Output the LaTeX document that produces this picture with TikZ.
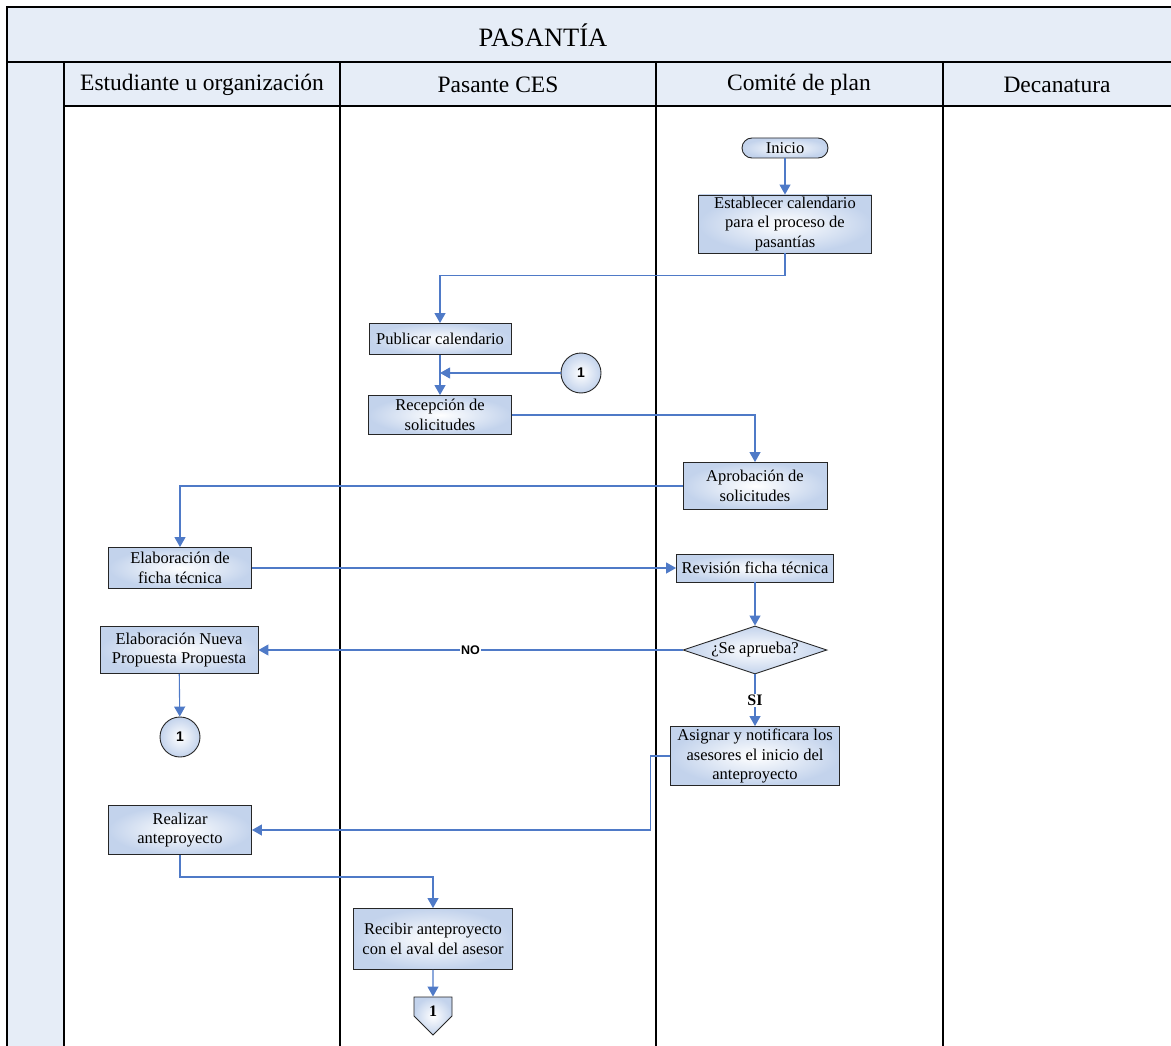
\documentclass[tikz,border=0pt]{standalone}
\usepackage{fontspec}
\setmainfont{Liberation Serif}
\newfontfamily\sansbold{Liberation Sans}
\usetikzlibrary{arrows.meta,positioning,shapes.geometric,shapes.symbols}
\definecolor{laneblue}{HTML}{E6EDF7}
\definecolor{boxblue}{HTML}{C3D3EC}
\definecolor{flowblue}{HTML}{4F7AC7}

\begin{document}
\begin{tikzpicture}[
  x=1pt, y=-1pt,
  font=\fontsize{16.5}{19.5}\selectfont,
  box/.style={draw=black!85, inner color=white, outer color=boxblue, align=center, inner sep=1pt, line width=0.9pt},
  conn/.style={circle, draw=black!85, inner color=white, outer color=boxblue, minimum size=40pt, inner sep=0pt, line width=0.9pt, font=\sansbold\bfseries\fontsize{14}{14}\selectfont},
  lanehead/.style={font=\fontsize{23.5}{26}\selectfont},
  arrow/.style={-{Triangle[width=11pt,length=10pt]}, draw=flowblue, line width=1.1pt},
  lane/.style={line width=1.2pt}
]
\useasboundingbox (0,0) rectangle (1171,1046);
% swimlane frame
\fill[laneblue] (7,7) rectangle (1171,62);
\fill[laneblue] (7,62) rectangle (64,1046);
\fill[laneblue] (64,62) rectangle (1171,106);
\draw[lane] (7,1046) -- (7,7) -- (1171,7);
\draw[line width=2.6pt] (7,62) -- (1171,62);
\draw[lane] (64,106) -- (1171,106);
\foreach \xx in {64,340,656,943}
  \draw[lane] (\xx,62) -- (\xx,1046);
\node[font=\fontsize{26.5}{30}\selectfont] (title) at (543,35) {PASANTÍA};
\node[lanehead] (hdstud) at (202,85) {Estudiante u organización};
\node[lanehead] (hdpas) at (498,85) {Pasante CES};
\node[lanehead] (hdcom) at (799,85) {Comité de plan};
\node[lanehead] (hddec) at (1057,85) {Decanatura};

% steps
\node[box, rounded corners=10pt, minimum width=86pt, minimum height=20pt] (inicio) at (785,148) {Inicio};
\node[box, minimum width=173pt, minimum height=58pt] (establecer) at (785,224) {Establecer calendario\\para el proceso de\\pasantías};
\node[box, minimum width=142pt, minimum height=31pt] (publicar) at (440,339) {Publicar calendario};
\node[conn] (conA) at (581,373) {1};
\node[box, minimum width=143pt, minimum height=39pt] (recepcion) at (440,415) {Recepción de\\solicitudes};
\node[box, minimum width=144pt, minimum height=47pt] (aprobacion) at (755,486) {Aprobación de\\solicitudes};
\node[box, minimum width=143pt, minimum height=41pt] (ficha) at (180,568) {Elaboración de\\ficha técnica};
\node[box, minimum width=157pt, minimum height=28pt] (revision) at (755,568) {Revisión ficha técnica};
\node[box, diamond, aspect=3, inner sep=0pt, minimum width=144pt, minimum height=48pt] (decision) at (755,650) {¿Se aprueba?};
\node[box, minimum width=158pt, minimum height=47pt] (nueva) at (179,650) {Elaboración Nueva\\Propuesta Propuesta};
\node[conn] (conB) at (180,737) {1};
\node[box, minimum width=169pt, minimum height=59pt] (asignar) at (755,756) {Asignar y notificara los\\asesores el inicio del\\anteproyecto};
\node[box, minimum width=143pt, minimum height=49pt] (realizar) at (180,830) {Realizar\\anteproyecto};
\node[box, minimum width=159pt, minimum height=61pt] (recibir) at (433,939) {Recibir anteproyecto\\con el aval del asesor};
\node[box, signal, signal to=south, signal pointer angle=90, minimum width=38pt, minimum height=0pt, inner sep=0pt, text height=19pt, text depth=-2pt, font=\bfseries\fontsize{16}{16}\selectfont] (offpage) at (433,1006.5) {1};

% flow
\draw[arrow] (inicio) -- (establecer);
\draw[arrow] (establecer.south) -- ++(0,22) -| (publicar.north);
\draw[arrow] (publicar) -- (recepcion);
\draw[arrow] (conA.west) -- (conA.west -| publicar.south);
\draw[arrow] (recepcion.east) -| (aprobacion.north);
\draw[arrow] (aprobacion.west) -| (ficha.north);
\draw[arrow] (ficha.east) -- (revision.west);
\draw[arrow] (revision) -- (decision);
\draw[arrow] (decision.west) -- node[fill=white, inner sep=1pt, font=\sansbold\bfseries\fontsize{12.5}{12.5}\selectfont] {NO} (nueva.east);
\draw[arrow] (decision.south) -- node[fill=white, inner sep=1pt, font=\bfseries\fontsize{16}{16}\selectfont] {SI} (asignar.north);
\draw[arrow] (nueva) -- (conB);
\draw[arrow] (asignar.west) -- ++(-20,0) |- (realizar.east);
\draw[arrow] (realizar.south) -- ++(0,22) -| (recibir.north);
\draw[arrow] (recibir) -- (offpage);
\end{tikzpicture}
\end{document}
